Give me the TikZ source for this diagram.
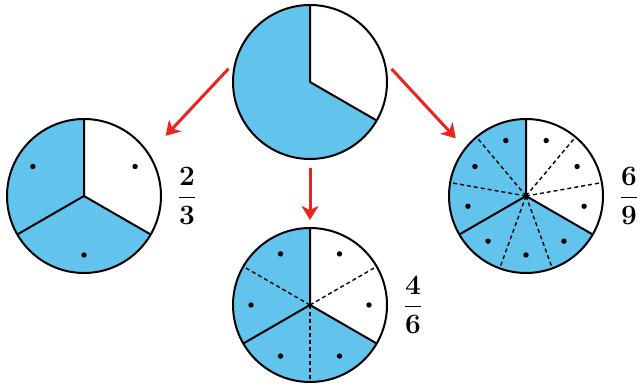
\documentclass[tikz,border=0pt]{standalone}
\usepackage{tikz}
\usetikzlibrary{
  arrows.meta,
  positioning,
  backgrounds
}
\usepackage{xcolor}
\usepackage{graphicx}
\usepackage{amsmath,amssymb}
\definecolor{pieblue}{HTML}{62C3EC}
\definecolor{arrowred}{HTML}{E8251F}

\newcommand{\bigfrac}[2]{\scalebox{1.35}{$\displaystyle\frac{\mathbf{#1}}{\mathbf{#2}}$}}

\begin{document}
\begin{tikzpicture}[
  x=1pt, y=1pt,
  pie/.style={circle, draw, line width=2pt, minimum size=154pt, inner sep=0pt,
    outer sep=0pt},
  spoke/.style={line width=2pt},
  cut/.style={line width=1.4pt, dash pattern=on 4pt off 3pt},
  fraclabel/.style={font=\fontsize{20.74}{25}\selectfont, right=13pt of #1},
  arrow/.style={-{Stealth[length=14pt, width=17pt, inset=4pt]}, line width=3pt,
    arrowred}
]

  \useasboundingbox (0,0) rectangle (642,387);

  % Circles: whole, thirds, sixths, ninths
  \node[pie] (t) at (310,305) {};
  \node[pie] (l) at (84,191) {};
  \node[pie] (b) at (310,82) {};
  \node[pie] (r) at (526,191) {};

  % Shaded two thirds
  \begin{scope}[on background layer]
    \foreach \n in {t,l,b,r}
      \fill[pieblue] (\n.center) -- (\n.90) arc[start angle=90, end angle=330,
        radius=77] -- cycle;
  \end{scope}

  % Solid cuts
  \foreach \n in {t,l,b,r}
    \draw[spoke] (\n.90) -- (\n.center) -- (\n.330);
  \foreach \n in {l,b,r}
    \draw[spoke] (\n.center) -- (\n.210);

  % Dashed cuts
  \foreach \a in {30,150,270}
    \draw[cut] (b.center) -- (b.\a);
  \foreach \a in {10,50,130,170,250,290}
    \draw[cut] (r.center) -- (r.\a);

  % Dots
  \foreach \a in {30,150,270}
    \fill (l.center) ++(\a:59) circle (2.7);
  \foreach \a in {0,60,...,300}
    \fill (b.center) ++(\a:59) circle (2.7);
  \foreach \a in {30,70,...,350}
    \fill (r.center) ++(\a:59) circle (2.7);

  % Arrows
  \draw[arrow, shorten <=11pt, shorten >=25pt] (t.164) -- (l.33);
  \draw[arrow, shorten <=9pt, shorten >=8pt] (t.south) -- (b.north);
  \draw[arrow, shorten <=11pt, shorten >=14pt] (t.16) -- (r.142);

  % Fractions
  \node[fraclabel=l] (fl) {\bigfrac{2}{3}};
  \node[fraclabel=b] (fb) {\bigfrac{4}{6}};
  \node[fraclabel=r] (fr) {\bigfrac{6}{9}};

\end{tikzpicture}
\end{document}
